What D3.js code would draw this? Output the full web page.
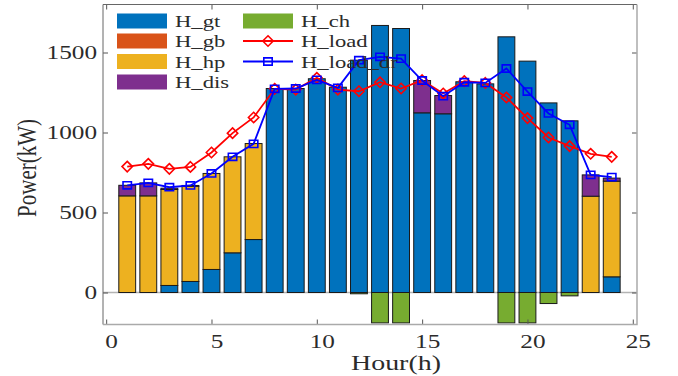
<!DOCTYPE html>
<html>
<head>
<meta charset="utf-8">
<script src="https://cdn.jsdelivr.net/npm/d3@7/dist/d3.min.js"></script>
<style>
body { margin: 0; background: #fff; }
text { font-family: "Liberation Serif", "Times New Roman", serif; fill: #2b2b2b; }
</style>
</head>
<body>
<script>
// hourly heat balance (kW)
var hours = d3.range(1, 25);
var H_gt  = [0, 0, 44, 69, 144, 248, 331, 1275, 1275, 1336, 1283, 1452, 1669, 1650, 1123, 1117, 1317, 1304, 1598, 1446, 1185, 1073, 0, 98];
var H_gb  = [0, 0, 0, 0, 0, 0, 0, 0, 0, 0, 0, 0, 0, 0, 0, 0, 0, 0, 0, 0, 0, 0, 0, 0];
var H_hp  = [604, 604, 600, 595, 600, 600, 600, 0, 0, 0, 0, 0, 0, 0, 0, 0, 0, 0, 0, 0, 0, 0, 602, 598];
var H_dis = [66, 81, 8, 5, 0, 0, 0, 0, 0, 0, 0, 0, 0, 0, 202, 114, 0, 0, 0, 0, 0, 0, 133, 19];
var H_ch  = [0, 0, 0, 0, 0, 0, 0, 0, 0, 0, 0, -8, -190, -190, 0, 0, 0, 0, -190, -190, -69, -21, 0, 0];
var H_load    = [787, 804, 773, 785, 875, 996, 1094, 1273, 1268, 1342, 1268, 1258, 1314, 1275, 1327, 1244, 1321, 1310, 1219, 1090, 969, 915, 867, 848];
var H_load_dr = [670, 685, 658, 669, 744, 848, 929, 1273, 1275, 1329, 1279, 1452, 1473, 1462, 1325, 1227, 1314, 1310, 1400, 1256, 1119, 1048, 735, 721];
var xTicks = [0, 5, 10, 15, 20, 25];
var yTicks = [0, 500, 1000, 1500];

var barKeys = ["H_gt", "H_gb", "H_hp", "H_dis", "H_ch"];
var colors = {H_gt: "#0072BD", H_gb: "#D95319", H_hp: "#EDB120", H_dis: "#7E2F8E", H_ch: "#77AC30"};
var series = {H_gt: H_gt, H_gb: H_gb, H_hp: H_hp, H_dis: H_dis, H_ch: H_ch};

var rows = hours.map(function(h, i) {
  var r = {hour: h};
  barKeys.forEach(function(k) { r[k] = series[k][i]; });
  return r;
});

// the source image is stretched sideways, text follows that
var S = 1.33;

var svg = d3.select("body").append("svg")
    .attr("width", 678)
    .attr("height", 376);

var box = {left: 103, right: 637, top: 4.5, bottom: 324.5};

var x = d3.scaleLinear().domain([-0.15, 25.2]).range([box.left, box.right]);
var y = d3.scaleLinear().domain([-200, 1800]).range([box.bottom, box.top]);

// baseline at zero
svg.append("line")
    .attr("x1", box.left).attr("x2", box.right)
    .attr("y1", y(0)).attr("y2", y(0))
    .attr("stroke", "#b3b3b3")
    .attr("stroke-width", 1.5);

var stack = d3.stack().keys(barKeys).offset(d3.stackOffsetDiverging);

svg.selectAll(".serie")
  .data(stack(rows))
  .enter().append("g")
    .attr("class", "serie")
    .attr("fill", function(d) { return colors[d.key]; })
  .selectAll("rect")
  .data(function(d) { return d; })
  .enter().append("rect")
    .attr("x", function(d) { return x(d.data.hour - 0.4); })
    .attr("width", function(d) { return x(d.data.hour + 0.4) - x(d.data.hour - 0.4); })
    .attr("y", function(d) { return y(d[1]); })
    .attr("height", function(d) { return y(d[0]) - y(d[1]); })
    .attr("stroke", "#1a1a1a")
    .attr("stroke-width", 1);

function diamond(cx, cy) {
  var w = 5.2, h = 5.2;
  return "M" + cx + "," + (cy - h) + "L" + (cx + w) + "," + cy + "L" + cx + "," + (cy + h) + "L" + (cx - w) + "," + cy + "Z";
}
function square(cx, cy) {
  var w = 4.2, h = 3.6;
  return "M" + (cx - w) + "," + (cy - h) + "h" + (2 * w) + "v" + (2 * h) + "h" + (-2 * w) + "Z";
}

var lines = [
  {name: "H_load", values: H_load, color: "#ff0000", marker: diamond},
  {name: "H_load_dr", values: H_load_dr, color: "#0000ff", marker: square}
];

var line = d3.line()
    .x(function(d, i) { return x(hours[i]); })
    .y(function(d) { return y(d); });

lines.forEach(function(s) {
  var g = svg.append("g");
  g.append("path")
      .attr("d", line(s.values))
      .attr("fill", "none")
      .attr("stroke", s.color)
      .attr("stroke-width", 1.8);
  g.selectAll(".mk")
    .data(s.values)
    .enter().append("path")
      .attr("class", "mk")
      .attr("d", function(d, i) { return s.marker(x(hours[i]), y(d)); })
      .attr("fill", "none")
      .attr("stroke", s.color)
      .attr("stroke-width", 1.6);
});

// axes, matlab style box with inward ticks
var axB = svg.append("g")
    .attr("transform", "translate(0," + box.bottom + ")")
    .call(d3.axisBottom(x).tickValues(xTicks).tickFormat(d3.format("d")).tickSizeInner(-5).tickSizeOuter(0).tickPadding(10));
var axL = svg.append("g")
    .attr("transform", "translate(" + box.left + ",0)")
    .call(d3.axisLeft(y).tickValues(yTicks).tickFormat(d3.format("d")).tickSizeInner(-5).tickSizeOuter(0).tickPadding(6));
var axT = svg.append("g")
    .attr("transform", "translate(0," + box.top + ")")
    .call(d3.axisTop(x).tickValues(xTicks).tickSizeInner(-5).tickSizeOuter(0).tickFormat(""));
var axR = svg.append("g")
    .attr("transform", "translate(" + box.right + ",0)")
    .call(d3.axisRight(y).tickValues(yTicks).tickSizeInner(-5).tickSizeOuter(0).tickFormat(""));

[axB, axL, axT, axR].forEach(function(a) {
  a.select(".domain").remove();
  a.selectAll(".tick line").attr("stroke", "#555");
  a.attr("font-family", null).attr("font-size", null);
});

axB.selectAll(".tick text")
    .style("font-size", "19px")
    .attr("transform", "translate(5,0) scale(" + S + ",1)");
axL.selectAll(".tick text")
    .style("font-size", "19px")
    .attr("x", -6 / S)
    .attr("transform", "scale(" + S + ",1)");

svg.append("path")
    .attr("d", "M" + box.left + "," + box.bottom + "V" + box.top + "H" + box.right)
    .attr("fill", "none")
    .attr("stroke", "#666")
    .attr("stroke-width", 1);
svg.append("path")
    .attr("d", "M" + box.left + "," + box.bottom + "H" + box.right + "V" + box.top)
    .attr("fill", "none")
    .attr("stroke", "#aaa")
    .attr("stroke-width", 1.5);

function label(px, py, str, size, anchor, rot) {
  svg.append("g")
      .attr("transform", "translate(" + px + "," + py + ") scale(" + S + ",1)" + (rot ? " rotate(" + rot + ")" : ""))
    .append("text")
      .attr("text-anchor", anchor)
      .style("font-size", size + "px")
      .text(str);
}

label(396, 370, "Hour(h)", 21, "middle");
label(36, 168, "Power(kW)", 21, "middle", -90);

// legend, no frame
var legend = [
  {name: "H_gt", col: 0, row: 0, type: "patch"},
  {name: "H_gb", col: 0, row: 1, type: "patch"},
  {name: "H_hp", col: 0, row: 2, type: "patch"},
  {name: "H_dis", col: 0, row: 3, type: "patch"},
  {name: "H_ch", col: 1, row: 0, type: "patch"},
  {name: "H_load", col: 1, row: 1, type: "line", color: "#ff0000", marker: diamond},
  {name: "H_load_dr", col: 1, row: 2, type: "line", color: "#0000ff", marker: square}
];
var legX = [117, 243], rowY = [21, 41, 61.5, 82];

legend.forEach(function(d) {
  var lx = legX[d.col], ly = rowY[d.row];
  if (d.type === "patch") {
    svg.append("rect")
        .attr("x", lx).attr("y", ly - 7.5)
        .attr("width", 50).attr("height", 15)
        .attr("fill", colors[d.name]);
  } else {
    svg.append("line")
        .attr("x1", lx).attr("x2", lx + 50)
        .attr("y1", ly).attr("y2", ly)
        .attr("stroke", d.color).attr("stroke-width", 1.8);
    svg.append("path")
        .attr("d", d.marker(lx + 25, ly))
        .attr("fill", "none")
        .attr("stroke", d.color).attr("stroke-width", 1.6);
  }
  label(lx + 58, ly + 6, d.name, 17, "start");
});
</script>
</body>
</html>
